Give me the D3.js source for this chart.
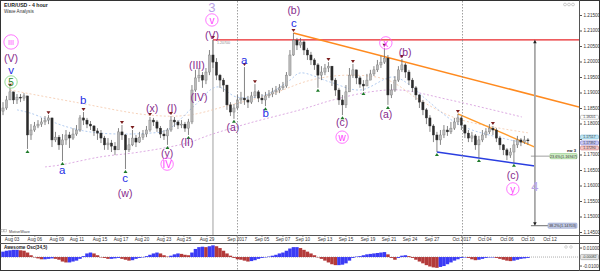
<!DOCTYPE html>
<html><head><meta charset="utf-8">
<script src="https://cdn.jsdelivr.net/npm/d3@7"></script>
<style>body{margin:0;background:#fff}svg{display:block;font-family:"Liberation Sans",Arial,sans-serif}</style>
</head><body><svg id="c" width="600" height="271"></svg>
<script>
// ---------------- DATA ----------------
const firstOpen = 1.1840;
const closes = [1.1850,1.1876,1.1902,1.1876,1.1885,1.1882,1.1889,1.1763,1.1779,1.1792,
1.1798,1.1805,1.1811,1.1818,1.1747,1.1756,1.1731,1.1747,1.1763,1.1753,
1.1766,1.1779,1.1818,1.1811,1.1798,1.1792,1.1776,1.1769,1.1753,1.1731,
1.1737,1.1727,1.1715,1.1773,1.1763,1.1715,1.1731,1.1753,1.1740,1.1756,
1.1766,1.1779,1.1811,1.1805,1.1785,1.1766,1.1760,1.1779,1.1811,1.1805,
1.1795,1.1798,1.1785,1.1805,1.1908,1.1947,1.1956,1.1940,1.1966,1.2021,
1.1998,1.1956,1.1940,1.1924,1.1860,1.1837,1.1850,1.1876,1.1882,1.1876,
1.1869,1.1889,1.1902,1.1882,1.1876,1.1889,1.1895,1.1902,1.1908,1.1915,
1.1921,1.1956,1.2021,1.2069,1.2053,1.2063,1.2037,1.2021,1.2005,1.1989,
1.1956,1.1966,1.1979,1.1985,1.1940,1.1908,1.1876,1.1860,1.1902,1.1956,
1.1973,1.1947,1.1927,1.1921,1.1940,1.1960,1.1973,1.1989,1.1998,1.2011,
1.1892,1.1908,1.1940,1.1973,1.1989,1.1966,1.1940,1.1915,1.1892,1.1869,
1.1844,1.1818,1.1792,1.1763,1.1747,1.1763,1.1779,1.1773,1.1785,1.1805,
1.1818,1.1795,1.1769,1.1753,1.1760,1.1731,1.1747,1.1763,1.1773,1.1785,
1.1779,1.1753,1.1731,1.1715,1.1698,1.1708,1.1731,1.1747,1.1740,1.1747,1.1744];
const highs = [1.1869,1.1889,1.1915,1.1902,1.1895,1.1895,1.1898,1.1885,1.1798,1.1805,
1.1811,1.1818,1.1824,1.1827,1.1818,1.1773,1.1763,1.1766,1.1779,1.1773,
1.1785,1.1795,1.1827,1.1837,1.1818,1.1808,1.1795,1.1785,1.1779,1.1760,
1.1753,1.1747,1.1740,1.1785,1.1795,1.1766,1.1753,1.1779,1.1763,1.1773,
1.1779,1.1792,1.1821,1.1818,1.1811,1.1792,1.1779,1.1785,1.1824,1.1821,
1.1811,1.1811,1.1805,1.1815,1.1924,1.1973,1.1979,1.1966,1.1979,1.2037,
1.2069,1.2011,1.1960,1.1947,1.1924,1.1869,1.1863,1.1892,1.1902,1.1982,
1.1889,1.1902,1.1927,1.1908,1.1895,1.1902,1.1908,1.1915,1.1921,1.1927,
1.1934,1.1966,1.2037,1.2092,1.2076,1.2076,1.2069,1.2044,1.2031,1.2011,
1.1995,1.1985,1.1992,1.1998,1.1985,1.1947,1.1915,1.1892,1.1924,1.1979,
1.1992,1.1973,1.1953,1.1940,1.1960,1.1973,1.1985,1.2005,1.2018,1.2044,
1.2021,1.1927,1.1953,1.1985,1.2008,1.1995,1.1973,1.1947,1.1921,1.1895,
1.1876,1.1850,1.1827,1.1798,1.1773,1.1779,1.1795,1.1792,1.1805,1.1818,
1.1831,1.1824,1.1798,1.1779,1.1773,1.1766,1.1760,1.1779,1.1785,1.1798,
1.1792,1.1785,1.1760,1.1734,1.1721,1.1721,1.1747,1.1760,1.1753,1.1760,1.1753];
const lows = [1.1827,1.1844,1.1876,1.1863,1.1863,1.1869,1.1873,1.1718,1.1747,1.1773,
1.1785,1.1789,1.1795,1.1798,1.1724,1.1740,1.1715,1.1679,1.1731,1.1721,
1.1747,1.1760,1.1773,1.1795,1.1785,1.1779,1.1760,1.1747,1.1737,1.1715,
1.1715,1.1708,1.1698,1.1715,1.1747,1.1653,1.1708,1.1727,1.1724,1.1737,
1.1747,1.1756,1.1773,1.1792,1.1773,1.1753,1.1747,1.1731,1.1773,1.1789,
1.1782,1.1785,1.1773,1.1763,1.1798,1.1902,1.1934,1.1915,1.1927,1.1956,
1.1979,1.1940,1.1915,1.1902,1.1844,1.1824,1.1815,1.1844,1.1863,1.1860,
1.1850,1.1863,1.1882,1.1869,1.1863,1.1856,1.1882,1.1885,1.1892,1.1898,
1.1908,1.1915,1.1953,1.2018,1.2037,1.2044,1.2021,1.2005,1.1989,1.1973,
1.1915,1.1940,1.1956,1.1966,1.1921,1.1889,1.1860,1.1827,1.1850,1.1902,
1.1947,1.1927,1.1915,1.1905,1.1921,1.1940,1.1953,1.1966,1.1979,1.1992,
1.1860,1.1882,1.1902,1.1934,1.1966,1.1947,1.1924,1.1902,1.1876,1.1850,
1.1827,1.1798,1.1773,1.1740,1.1708,1.1731,1.1753,1.1760,1.1766,1.1779,
1.1795,1.1779,1.1753,1.1740,1.1740,1.1715,1.1689,1.1740,1.1753,1.1766,
1.1763,1.1740,1.1715,1.1698,1.1682,1.1689,1.1673,1.1721,1.1727,1.1734,1.1731];
const aoValues = [0.0060,0.0070,0.0075,0.0080,0.0080,0.0075,0.0070,0.0050,0.0020,0.0000,
-0.0015,-0.0025,-0.0025,-0.0020,-0.0015,-0.0020,-0.0030,-0.0050,-0.0060,-0.0060,
-0.0050,-0.0040,-0.0020,0.0010,0.0040,0.0050,0.0040,0.0020,0.0000,-0.0010,
-0.0020,-0.0020,-0.0015,-0.0010,-0.0020,-0.0030,-0.0040,-0.0035,-0.0020,-0.0010,
0.0000,0.0010,0.0025,0.0040,0.0050,0.0040,0.0020,0.0005,0.0015,0.0030,
0.0040,0.0035,0.0025,0.0020,0.0050,0.0090,0.0110,0.0115,0.0110,0.0120,
0.0130,0.0120,0.0100,0.0070,0.0040,0.0015,-0.0010,-0.0025,-0.0030,-0.0040,
-0.0050,-0.0045,-0.0035,-0.0020,-0.0010,0.0000,0.0005,0.0015,0.0025,0.0040,
0.0050,0.0070,0.0095,0.0110,0.0110,0.0100,0.0080,0.0060,0.0040,0.0020,
0.0000,-0.0020,-0.0040,-0.0060,-0.0080,-0.0090,-0.0090,-0.0085,-0.0070,-0.0040,
-0.0010,0.0005,0.0010,0.0020,0.0030,0.0035,0.0040,0.0045,0.0050,0.0055,
0.0030,-0.0010,-0.0030,-0.0010,0.0015,0.0020,0.0010,-0.0010,-0.0030,-0.0050,
-0.0070,-0.0090,-0.0105,-0.0115,-0.0120,-0.0110,-0.0100,-0.0080,-0.0060,-0.0040,
-0.0025,-0.0010,-0.0005,-0.0010,-0.0025,-0.0035,-0.0030,-0.0020,-0.0010,-0.0005,
-0.0005,-0.0010,-0.0020,-0.0030,-0.0040,-0.0045,-0.0040,-0.0030,-0.0020,-0.0015,-0.0010];

const priceTicks = [1.145,1.150,1.155,1.160,1.165,1.170,1.175,1.180,1.185,1.190,1.195,1.200,1.205,1.210,1.215];
const dateLabels = ["Aug 03","Aug 06","Aug 09","Aug 11","Aug 15","Aug 17","Aug 20","Aug 23","Aug 25","Aug 29","Sep 2017","Sep 05","Sep 07","Sep 10","Sep 13","Sep 15","Sep 19","Sep 21","Sep 24","Sep 27","Oct 2017","Oct 04","Oct 06","Oct 10","Oct 12"];
const dateTickIdx = [2.6,9.1,15.4,21.1,27.7,33.7,39.7,46,51.7,58.3,66.9,74,80,85.7,92,98,104.3,110.3,116.3,122.6,131.1,137.7,144,150,156.3];
const monthStartIdx = [66.9,131.1];

const peakIdx = [2,13,23,34,37,42,48,60,69,72,83,93,100,109,114,130,140];
const troughIdx = [7,17,35,47,53,66,75,90,97,103,110,124,136,146];

// wave labels: [candle index, price, text, kind]
const waveLabels = [
 [2.3,1.2063,"III","pinkc"],[2.3,1.2011,"(V)","purple"],[2.3,1.1973,"v","blue"],[2.3,1.1934,"5","greenc"],
 [22.9,1.1876,"b","blue"],[16.9,1.1650,"a","blue"],[34.9,1.1624,"c","blue"],[34.9,1.1576,"(w)","purple"],
 [42.6,1.1850,"(x)","purple"],[48.3,1.1850,"(I)","purple"],[46.9,1.1705,"(y)","purple"],[46.9,1.1669,"IV","pinkc"],
 [52.6,1.1740,"(II)","purple"],[55.4,1.1989,"(III)","purple"],[56.0,1.1885,"(IV)","purple"],
 [59.7,1.2086,"(V)","purple"],[59.7,1.2134,"v","pinkc"],[59.7,1.2176,"3","lav"],
 [65.7,1.1789,"(a)","purple"],[68.9,1.2005,"a","blue"],[75.1,1.1834,"b","blue"],
 [83.1,1.2124,"c","blue"],[83.1,1.2166,"(b)","purple"],
 [96.9,1.1805,"(c)","purple"],[96.9,1.1756,"w","pinkc"],
 [109.4,1.2060,"x","pinkc"],[109.4,1.1831,"(a)","purple"],[114.9,1.2031,"(b)","purple"],
 [145.7,1.1634,"(c)","purple"],[145.7,1.1589,"y","pinkc"],[152,1.1598,"4","lav"]
];

const slowMA = [[12,1.1660],[16.3,1.1666],[27.7,1.1692],[39.1,1.1708],[52.6,1.1737],[59.1,1.1763],[70.6,1.1802],[84.9,1.1844],[94.3,1.1876],[104.9,1.1902],[113.4,1.1908],[127.7,1.1876],[148.3,1.1821]];
const fastMA = [[4,1.1844],[7.7,1.1834],[18.3,1.1789],[27.7,1.1769],[42,1.1769],[46.9,1.1779],[54.3,1.1853],[61.1,1.1918],[66.9,1.1885],[74.9,1.1892],[82,1.1940],[84.9,1.1963],[93.4,1.1934],[102,1.1908],[111.4,1.1950],[116.3,1.1924],[121.1,1.1876],[130.6,1.1795],[144.9,1.1747],[150,1.1737]];
const midMA = [[2,1.1908],[20,1.1870],[42,1.1827],[53,1.1827],[65,1.1860],[76,1.1892],[88,1.1940],[99,1.1956],[110,1.1940],[119,1.1876],[130,1.1815],[150,1.1770]];

const redLevel = 1.2070;
const orangeLine = [[83,1.2092],[164.6,1.1853]];
const orangeShort = [[130,1.1831],[152,1.1724]];
const blueLine = [[124,1.1708],[152,1.1663]];
const fibIdx = 152, fibTop = 1.2070, fibBottom = 1.14703, fibMid = 1.16947;
const lastPrices = [1.18201,1.17517,1.17392,1.17290];

// ---------------- DRAW ----------------
const svg = d3.select('#c');
const x = d3.scaleLinear().domain([0,164.6]).range([3,579]);
const y = d3.scaleLinear().domain([1.145,1.215]).range([232,15]);
const yAO = d3.scaleLinear().domain([-0.0144,0.0156]).range([270,243]);

const defs = svg.append('defs');
defs.append('clipPath').attr('id','mc').append('rect').attr('x',1).attr('y',1).attr('width',578).attr('height',234);

// frames
svg.append('rect').attr('x',0.5).attr('y',0.5).attr('width',599).attr('height',270).attr('fill','none').attr('stroke','#333');
svg.append('line').attr('x1',0).attr('x2',600).attr('y1',235.5).attr('y2',235.5).attr('stroke','#555');
svg.append('line').attr('x1',0).attr('x2',600).attr('y1',243.5).attr('y2',243.5).attr('stroke','#555');
svg.append('line').attr('x1',579.5).attr('x2',579.5).attr('y1',0).attr('y2',271).attr('stroke','#555');

const main = svg.append('g').attr('clip-path','url(#mc)');

// month separators
monthStartIdx.forEach(m=>{
  svg.append('line').attr('x1',Math.round(x(m))+0.5).attr('x2',Math.round(x(m))+0.5).attr('y1',1).attr('y2',270)
    .attr('stroke','#888').attr('stroke-dasharray','1.5,1.5').attr('stroke-width',0.8);
});
// grey vertical at (V) top
main.append('line').attr('x1',x(60)).attr('x2',x(60)).attr('y1',y(redLevel)).attr('y2',235)
  .attr('stroke','#c4c4c4').attr('stroke-width',1.6);

// moving averages
const lineGen = d3.line().x(d=>x(d[0])).y(d=>y(d[1])).curve(d3.curveCatmullRom);
main.append('path').attr('d',lineGen(slowMA)).attr('fill','none').attr('stroke','#d9a3df').attr('stroke-width',0.9).attr('stroke-dasharray','2,2');
main.append('path').attr('d',lineGen(midMA)).attr('fill','none').attr('stroke','#f4c7a8').attr('stroke-width',0.8).attr('stroke-dasharray','2,2');
main.append('path').attr('d',lineGen(fastMA)).attr('fill','none').attr('stroke','#a9c6ee').attr('stroke-width',0.9).attr('stroke-dasharray','2,2');

// trend lines
main.append('line').attr('x1',x(60)).attr('x2',579).attr('y1',y(redLevel)).attr('y2',y(redLevel)).attr('stroke','#e8262a').attr('stroke-width',1.3);
const seg = (pts,col,w)=>main.append('line').attr('x1',x(pts[0][0])).attr('y1',y(pts[0][1])).attr('x2',x(pts[1][0])).attr('y2',y(pts[1][1])).attr('stroke',col).attr('stroke-width',w);
seg(orangeLine,'#ff8a1f',1.5);
seg(orangeShort,'#ff9a2a',1.4);
seg(blueLine,'#2a3ee0',1.5);

// small level label near red line
svg.append('text').attr('x',x(60)+4).attr('y',y(redLevel)+4).attr('font-size',3.6).attr('fill','#888').text('1.20700');

// candles
const opens = closes.map((c,i)=> i===0 ? firstOpen : closes[i-1]);
const cg = main.append('g');
closes.forEach((c,i)=>{
  const o = opens[i];
  const hi = Math.max(highs[i],o,c), lo = Math.min(lows[i],o,c);
  const cx = x(i);
  const up = c>=o;
  cg.append('line').attr('x1',cx).attr('x2',cx).attr('y1',y(hi)).attr('y2',y(lo)).attr('stroke','#666').attr('stroke-width',0.8);
  const top = y(Math.max(o,c)), bot = y(Math.min(o,c));
  cg.append('rect').attr('x',cx-1.1).attr('width',2.2).attr('y',top).attr('height',Math.max(0.8,bot-top))
    .attr('fill',up?'#b9b9b9':'#2b2b2b').attr('stroke',up?'#777':'#2b2b2b').attr('stroke-width',0.4);
});

// swing markers
peakIdx.forEach(i=>{
  const cx=x(i), yy=y(highs[i])-1;
  main.append('path').attr('d',`M${cx-2},${yy-3}L${cx+2},${yy-3}L${cx},${yy}Z`).attr('fill','#7a1d1d');
});
troughIdx.forEach(i=>{
  const cx=x(i), yy=y(lows[i])+1;
  main.append('path').attr('d',`M${cx-2},${yy+3}L${cx+2},${yy+3}L${cx},${yy}Z`).attr('fill','#1f7a2a');
});

// fib / projection
main.append('line').attr('x1',x(fibIdx)).attr('x2',x(fibIdx)).attr('y1',y(fibTop)+2).attr('y2',y(fibBottom)-2).attr('stroke','#a8a8a8').attr('stroke-width',1.8);
main.append('path').attr('d',`M${x(fibIdx)-1.8},${y(fibTop)+3.5}L${x(fibIdx)+1.8},${y(fibTop)+3.5}L${x(fibIdx)},${y(fibTop)}Z`).attr('fill','#222');
main.append('path').attr('d',`M${x(fibIdx)-1.8},${y(fibBottom)-3.5}L${x(fibIdx)+1.8},${y(fibBottom)-3.5}L${x(fibIdx)},${y(fibBottom)}Z`).attr('fill','#222');
main.append('line').attr('x1',x(fibIdx)-4).attr('x2',x(fibIdx)+13).attr('y1',y(fibBottom)).attr('y2',y(fibBottom)).attr('stroke','#444').attr('stroke-width',0.8);
main.append('line').attr('x1',x(fibIdx)-4).attr('x2',x(fibIdx)+15).attr('y1',y(fibMid)).attr('y2',y(fibMid)).attr('stroke','#888').attr('stroke-width',0.8);

function box(xx,yy,w,txt,fill,stroke,fs,h){
  h = h||5.2;
  svg.append('rect').attr('x',xx).attr('y',yy-h/2).attr('width',w).attr('height',h).attr('rx',1).attr('fill',fill).attr('stroke',stroke).attr('stroke-width',0.5);
  svg.append('text').attr('x',xx+w/2).attr('y',yy+(fs||3.8)*0.36).attr('text-anchor','middle').attr('font-size',fs||3.8).attr('fill','#333').text(txt);
}
box(550,y(fibMid),27,'23.6%(1.16947)','#cfeec6','#7fbf72');
svg.append('text').attr('x',576).attr('y',y(fibMid)-4).attr('text-anchor','end').attr('font-size',4.2).attr('font-weight','bold').attr('fill','#222').text('ew 3');
box(548,y(fibBottom),29,'38.2%(1.14703)','#c3cbe6','#8090c4');

// wave labels
const wl = main.append('g');
waveLabels.forEach(([i,p,t,k])=>{
  const cx=x(i), cy=y(p);
  if(k==='pinkc'||k==='greenc'){
    const col = k==='pinkc' ? '#ff55ff' : '#7ed67e';
    const r = t.length>2 ? 7.2 : 6.2;
    wl.append('circle').attr('cx',cx).attr('cy',cy).attr('r',r).attr('fill','none').attr('stroke',col).attr('stroke-width',0.8);
    wl.append('text').attr('x',cx).attr('y',cy).attr('dy','0.36em').attr('text-anchor','middle')
      .attr('font-size',t.length>2?7.5:10).attr('fill',k==='pinkc'?'#ff3cff':'#2d8a2d').text(t);
  } else {
    const col = k==='purple' ? '#862a8c' : k==='blue' ? '#1f2ee6' : '#b9a3e6';
    wl.append('text').attr('x',cx).attr('y',cy).attr('dy','0.36em').attr('text-anchor','middle')
      .attr('font-size',k==='lav'?13:(k==='purple'?10.5:11.5)).attr('fill',col).text(t);
  }
});

// price axis (the tick label hidden under the last-price boxes is not drawn, as in the source)
const hiddenTick = 1.175;
const ya = svg.append('g').attr('transform','translate(579.5,0)')
  .call(d3.axisRight(y).tickValues(priceTicks).tickFormat(d=>Math.abs(d-hiddenTick)<1e-6?'':d3.format('.5f')(d)).tickSize(2.5).tickPadding(1.5));
ya.select('.domain').remove();
ya.selectAll('text').attr('font-size',4.6).attr('fill','#333');
ya.selectAll('line').attr('stroke','#555');

// right side current price boxes
const boxFill = ['#fff','#bfe6f4','#c8c8f4','#f4c8c8'];
const boxStroke = ['#999','#6aaccc','#6a6acc','#cc6a6a'];
const boxY = [y(lastPrices[0]), y(lastPrices[1])-1.5, y(lastPrices[2])+0.5, y(lastPrices[3])+2.5];
lastPrices.forEach((p,k)=>box(580.5,boxY[k],18,p.toFixed(5),boxFill[k],boxStroke[k],3.4,3.9));

// date axis
dateLabels.forEach((d,k)=>{
  const xx = x(dateTickIdx[k]);
  svg.append('line').attr('x1',xx).attr('x2',xx).attr('y1',235.5).attr('y2',237).attr('stroke','#555').attr('stroke-width',0.6);
  svg.append('text').attr('x',xx).attr('y',240.8).attr('text-anchor','middle').attr('font-size',4.6).attr('fill','#333').text(d);
});

// titles
svg.append('text').attr('x',4).attr('y',6.5).attr('font-size',5.2).attr('font-weight','bold').attr('fill','#222').text('EUR/USD - 4 hour');
svg.append('text').attr('x',4).attr('y',13).attr('font-size',4.6).attr('fill','#333').text('Wave Analysis');
svg.append('text').attr('x',9).attr('y',233).attr('font-size',3.8).attr('fill','#444').text('MotiveWave');
[2,5].forEach(d=>svg.append('rect').attr('x',d-1).attr('y',229.7).attr('width',2.2).attr('height',2.2).attr('fill','none').attr('stroke','#888').attr('stroke-width',0.4));
[565,569,573].forEach(d=>svg.append('circle').attr('cx',d).attr('cy',4.5).attr('r',1.4).attr('fill','none').attr('stroke','#aaa').attr('stroke-width',0.6));

// Awesome oscillator
const ao = svg.append('g');
ao.append('line').attr('x1',1).attr('x2',579).attr('y1',yAO(0)).attr('y2',yAO(0)).attr('stroke','#777').attr('stroke-width',0.6).attr('stroke-dasharray','1,1');
aoValues.forEach((v,i)=>{
  const prev = i===0 ? v : aoValues[i-1];
  const col = v>=prev ? '#3b3bf5' : '#b33a3a';
  const y0=yAO(0), y1=yAO(v);
  ao.append('rect').attr('x',x(i)-1.75).attr('width',3.5).attr('y',Math.min(y0,y1)).attr('height',Math.max(0.4,Math.abs(y1-y0))).attr('fill',col);
});
svg.append('text').attr('x',4).attr('y',248.5).attr('font-size',4.6).attr('font-weight','bold').attr('fill','#222').text('Awesome Osc(34,5)');
[[0.01,'0.01000'],[-0.01,'-0.01000']].forEach(([v,t])=>{
  svg.append('line').attr('x1',579.5).attr('x2',582).attr('y1',yAO(v)).attr('y2',yAO(v)).attr('stroke','#555');
  svg.append('text').attr('x',583).attr('y',yAO(v)+1.6).attr('font-size',4.6).attr('fill','#333').text(t);
});
box(580.5,yAO(0),18,'-0.00082','#e6e6e6','#888',3.6);
[566,571].forEach(d=>svg.append('circle').attr('cx',d).attr('cy',247).attr('r',1.3).attr('fill','none').attr('stroke','#aaa').attr('stroke-width',0.5));
</script></body></html>
